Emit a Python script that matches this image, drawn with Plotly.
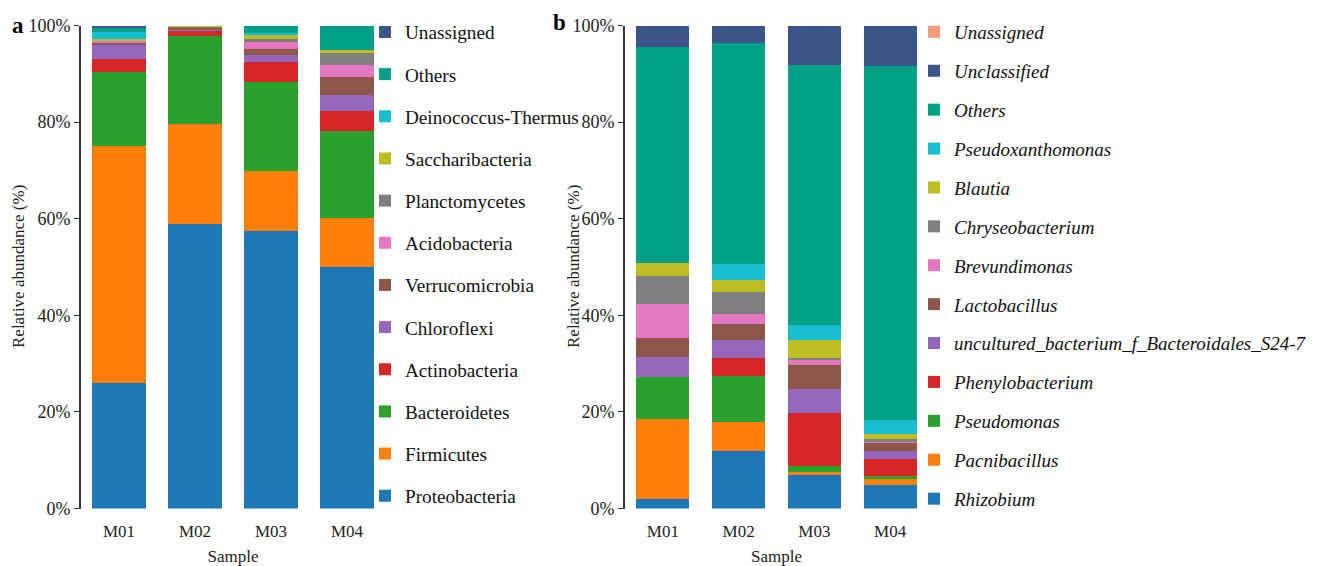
import plotly.graph_objects as go

W, H = 1322, 566
samples = ["M01", "M02", "M03", "M04"]

# Panel a: phylum-level relative abundance (%), listed bottom to top
phyla = ["Proteobacteria", "Firmicutes", "Bacteroidetes", "Actinobacteria", "Chloroflexi",
         "Verrucomicrobia", "Acidobacteria", "Planctomycetes", "Saccharibacteria",
         "Deinococcus-Thermus", "Others", "Unassigned"]
proteobacteria = [26.0, 59.0, 57.5, 50.0]
firmicutes = [49.0, 20.7, 12.4, 10.2]
bacteroidetes = [15.4, 18.1, 18.5, 17.9]
actinobacteria = [2.7, 1.3, 4.1, 4.3]
chloroflexi = [3.1, 0.2, 1.4, 3.3]
verrucomicrobia = [0.3, 0.3, 1.2, 3.7]
acidobacteria = [0.4, 0.1, 1.4, 2.4]
planctomycetes = [0.2, 0.1, 0.8, 2.8]
saccharibacteria = [0.2, 0.2, 1.0, 0.4]
deinococcus = [1.4, 0.0, 0.1, 0.0]
others_a = [1.0, 0.1, 1.6, 5.0]
unassigned_a = [0.3, 0.0, 0.0, 0.0]
phylum_values = [proteobacteria, firmicutes, bacteroidetes, actinobacteria, chloroflexi,
                 verrucomicrobia, acidobacteria, planctomycetes, saccharibacteria,
                 deinococcus, others_a, unassigned_a]

# Panel b: genus-level relative abundance (%), listed bottom to top
genera = ["Rhizobium", "Pacnibacillus", "Pseudomonas", "Phenylobacterium",
          "uncultured_bacterium_f_Bacteroidales_S24-7", "Lactobacillus", "Brevundimonas",
          "Chryseobacterium", "Blautia", "Pseudoxanthomonas", "Others", "Unclassified",
          "Unassigned"]
rhizobium = [2.0, 12.0, 6.9, 4.9]
pacnibacillus = [16.5, 5.9, 0.6, 1.3]
pseudomonas = [8.8, 9.5, 1.3, 0.6]
phenylobacterium = [0.0, 3.8, 11.0, 3.4]
uncultured_s24_7 = [4.1, 3.7, 4.9, 1.8]
lactobacillus = [3.8, 3.4, 5.0, 1.5]
brevundimonas = [7.1, 2.0, 1.2, 0.5]
chryseobacterium = [5.8, 4.5, 0.3, 0.3]
blautia = [2.7, 2.5, 3.7, 1.1]
pseudoxanthomonas = [0.0, 3.3, 3.1, 2.9]
others_b = [44.8, 45.8, 53.9, 73.3]
unclassified_b = [4.4, 3.6, 8.1, 8.4]
unassigned_b = [0.0, 0.0, 0.0, 0.0]
genus_values = [rhizobium, pacnibacillus, pseudomonas, phenylobacterium, uncultured_s24_7,
                lactobacillus, brevundimonas, chryseobacterium, blautia, pseudoxanthomonas,
                others_b, unclassified_b, unassigned_b]

base_colors = ["#1f77b4", "#ff7f0e", "#2ca02c", "#d62728", "#9467bd", "#8c564b",
               "#e377c2", "#7f7f7f", "#bcbd22", "#17becf"]
colors_a = base_colors + ["#00a087", "#3c5488"]
colors_b = base_colors + ["#00a087", "#3c5488", "#f39b7f"]

SERIF = "Liberation Serif"
fig = go.Figure()

# Stack order is bottom to top; legend lists the top series first
for i, (name, vals, col) in enumerate(zip(phyla, phylum_values, colors_a)):
    fig.add_trace(go.Bar(
        x=samples, y=vals, name=name, marker=dict(color=col, line=dict(width=0)),
        width=0.7, xaxis="x", yaxis="y", legend="legend",
        legendgroup="a_" + name, legendrank=100 - i))

for i, (name, vals, col) in enumerate(zip(genera, genus_values, colors_b)):
    fig.add_trace(go.Bar(
        x=samples, y=vals, name=name, marker=dict(color=col, line=dict(width=0)),
        width=0.7, xaxis="x2", yaxis="y2", legend="legend2",
        legendgroup="b_" + name, legendrank=100 - i))

ydom = [57.5 / H, 540.5 / H]
tick_font = dict(family=SERIF, size=18, color="#222")
title_font = dict(family=SERIF, size=17, color="#222")
yaxis_common = dict(
    range=[0, 100], tickvals=[0, 20, 40, 60, 80, 100],
    ticktext=["0%", "20%", "40%", "60%", "80%", "100%"],
    ticks="outside", ticklen=5, tickwidth=1.2, tickcolor="#333",
    showline=True, linecolor="#333", linewidth=1.6, showgrid=False, zeroline=False,
    tickfont=tick_font, domain=ydom, automargin=False,
)
xaxis_common = dict(
    range=[-0.5, 3.5], showline=False, ticks="", showgrid=False,
    tickfont=dict(family=SERIF, size=17, color="#222"), ticklabelstandoff=10,
    automargin=False,
    title=dict(text="Sample", font=title_font, standoff=12),
)


def y_title(xpx):
    return dict(text="Relative abundance (%)", x=xpx / W, y=(ydom[0] + ydom[1]) / 2,
                xref="paper", yref="paper", xanchor="center", yanchor="middle",
                textangle=-90, showarrow=False, font=title_font)


def panel_tag(label, xpx, ypx):
    return dict(text="<b>%s</b>" % label, x=xpx / W, y=1 - ypx / H,
                xref="paper", yref="paper", xanchor="center", yanchor="middle",
                showarrow=False, font=dict(family=SERIF, size=23, color="#000"))


fig.update_layout(
    width=W, height=H, barmode="stack",
    plot_bgcolor="white", paper_bgcolor="white",
    margin=dict(l=0, r=0, t=0, b=0, autoexpand=False),
    xaxis=dict(domain=[81 / W, 385 / W], anchor="y", **xaxis_common),
    yaxis=dict(anchor="x", **yaxis_common),
    xaxis2=dict(domain=[625 / W, 928 / W], anchor="y2", **xaxis_common),
    yaxis2=dict(anchor="x2", **yaxis_common),
    legend=dict(x=365 / W, xanchor="left", y=1 - 13 / H, yanchor="top",
                traceorder="grouped", tracegroupgap=14.2,
                font=dict(family=SERIF, size=19.2, color="#111"),
                bgcolor="rgba(0,0,0,0)"),
    legend2=dict(x=914 / W, xanchor="left", y=1 - 13 / H, yanchor="top",
                 traceorder="grouped", tracegroupgap=11.2,
                 font=dict(family=SERIF, size=19, color="#111", style="italic"),
                 bgcolor="rgba(0,0,0,0)"),
    annotations=[
        y_title(18), y_title(573),
        panel_tag("a", 18, 26), panel_tag("b", 559, 23),
    ],
)

fig.write_html("out.html")
